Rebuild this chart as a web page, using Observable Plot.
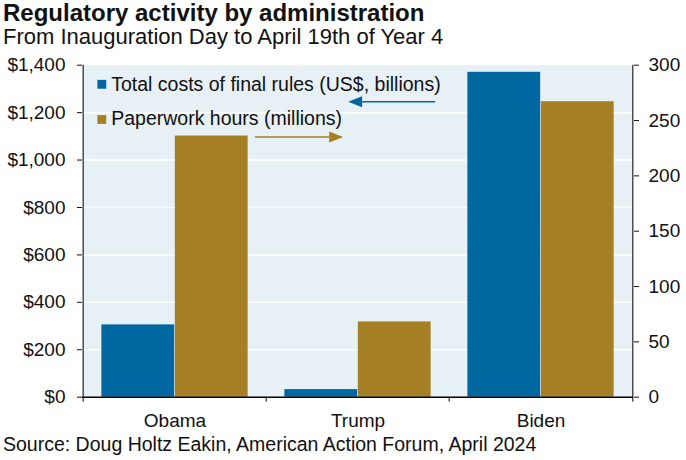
<!DOCTYPE html>
<html><head><meta charset="utf-8">
<script src="https://cdn.jsdelivr.net/npm/d3@7"></script>
<script src="https://cdn.jsdelivr.net/npm/@observablehq/plot@0.6"></script>
<style>
html,body{margin:0;padding:0;background:#fff;}
body{width:686px;height:460px;position:relative;overflow:hidden;font-family:"Liberation Sans",Arial,sans-serif;color:#111;}
#title{position:absolute;left:3px;top:0;font-size:24px;font-weight:bold;line-height:26px;white-space:nowrap;}
#subtitle{position:absolute;left:3px;top:26px;font-size:22px;line-height:22px;white-space:nowrap;}
#chart{position:absolute;left:0;top:46px;}
#caption{position:absolute;left:3px;top:434px;font-size:19.5px;line-height:20px;white-space:nowrap;}
</style></head><body>
<div id="title">Regulatory activity by administration</div>
<div id="subtitle">From Inauguration Day to April 19th of Year 4</div>
<div id="chart"></div>
<div id="caption">Source: Doug Holtz Eakin, American Action Forum, April 2024</div>
<script>
const admins = ["Obama", "Trump", "Biden"];
const finalRuleCosts = [305, 32, 1370];      // US$ billions (left axis)
const paperworkHours = [236, 68, 267];       // millions (right axis)
const leftTicks = [0, 200, 400, 600, 800, 1000, 1200, 1400];
const rightTicks = [0, 50, 100, 150, 200, 250, 300];
const seriesLabels = ["Total costs of final rules (US$, billions)", "Paperwork hours (millions)"];
const colors = ["#0067a1", "#a47f24"];
const leftMax = 1400, rightMax = 300;
const ratio = leftMax / rightMax;

const rows = admins.map((a, i) => ({admin: a, cost: finalRuleCosts[i], hours: paperworkHours[i]}));

const W = 686, H = 384, mL = 82, mR = 53, mT = 18.7, mB = 33.3;
const step = (W - mL - mR) / admins.length;
const pad = step * 0.1, half = step * 0.5;

// arrows pointing from legend to axis: fractions of frame width, level in left-axis units
const arrows = [
  {series: 0, from: 0.641, to: 0.483, level: 1244},
  {series: 1, from: 0.314, to: 0.474, level: 1095}
];
function arrowMark(index, scales, values, dims) {
  const g = d3.create("svg:g");
  const x0 = dims.marginLeft, fw = dims.width - dims.marginLeft - dims.marginRight;
  for (const a of arrows) {
    const y = scales.y(a.level);
    const xa = x0 + a.from * fw, xb = x0 + a.to * fw;
    const dir = Math.sign(xb - xa);
    const headLen = 14, headHalf = 5.5;
    g.append("line").attr("x1", xa).attr("x2", xb - dir * headLen).attr("y1", y).attr("y2", y)
      .attr("stroke", colors[a.series]).attr("stroke-width", 1.6);
    g.append("path").attr("d", `M${xb},${y}L${xb - dir * headLen},${y - headHalf}L${xb - dir * headLen},${y + headHalf}Z`)
      .attr("fill", colors[a.series]);
  }
  return g.node();
}

const chart = Plot.plot({
  width: W, height: H,
  marginLeft: mL, marginRight: mR, marginTop: mT, marginBottom: mB,
  style: {fontFamily: "'Liberation Sans', Arial, sans-serif", fontSize: "19px", color: "#111", background: "transparent", overflow: "visible"},
  x: {domain: admins, padding: 0, label: null, axis: null},
  y: {domain: [0, leftMax], label: null, axis: null},
  marks: [
    Plot.frame({fill: "#e7f0f4", stroke: null}),
    Plot.ruleY(leftTicks.slice(1, -1), {stroke: "#fff", strokeWidth: 1.5}),
    Plot.barY(rows, {x: "admin", y: "cost", fill: colors[0], insetLeft: pad, insetRight: half}),
    Plot.barY(rows, {x: "admin", y: d => d.hours * ratio, fill: colors[1], insetLeft: half, insetRight: pad}),
    Plot.ruleY([0], {stroke: "#000", strokeWidth: 1.5}),
    Plot.ruleX([admins[0]], {x: d => d, dx: -step / 2, insetBottom: -5, stroke: "#000"}),
    Plot.ruleX([admins[admins.length - 1]], {x: d => d, dx: step / 2, insetBottom: -5, stroke: "#000"}),
    Plot.ruleX(admins.slice(1), {x: d => d, dx: -step / 2, insetTop: H - mT - mB, insetBottom: -5, stroke: "#000"}),
    Plot.axisY(leftTicks, {anchor: "left", tickSize: 5, tickPadding: 12, tickFormat: d3.format("$,"), fontSize: 19, label: null}),
    Plot.axisY(rightTicks.map(v => v * ratio), {anchor: "right", tickSize: 5, tickPadding: 10, tickFormat: d => String(Math.round(d / ratio)), fontSize: 19, label: null}),
    Plot.axisX({anchor: "bottom", tickSize: 0, tickPadding: 16, fontSize: 19, label: null}),
    Plot.dot([seriesLabels[0]], {frameAnchor: "top-left", dx: 19.3, dy: 19.1, symbol: "square", r: 5, fill: colors[0]}),
    Plot.dot([seriesLabels[1]], {frameAnchor: "top-left", dx: 19.3, dy: 54.3, symbol: "square", r: 5, fill: colors[1]}),
    Plot.text([seriesLabels[0]], {frameAnchor: "top-left", dx: 28.7, dy: 19.1, textAnchor: "start", lineAnchor: "middle", fontSize: 19.5, fill: "#111"}),
    Plot.text([seriesLabels[1]], {frameAnchor: "top-left", dx: 28.7, dy: 53.5, textAnchor: "start", lineAnchor: "middle", fontSize: 19.5, fill: "#111"}),
    arrowMark
  ]
});
document.getElementById("chart").appendChild(chart);
</script>
</body></html>
